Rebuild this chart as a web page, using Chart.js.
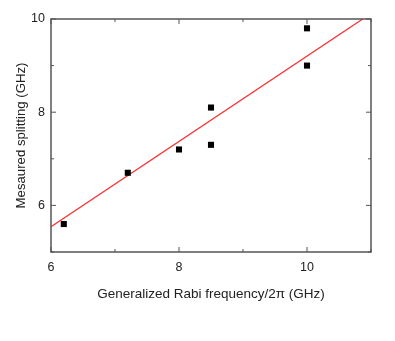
<!DOCTYPE html>
<html>
<head>
<meta charset="utf-8">
<script src="https://cdn.jsdelivr.net/npm/chart.js@4"></script>
<style>
  html, body { margin: 0; padding: 0; background: #fff; }
  canvas { display: block; }
</style>
</head>
<body>
<canvas id="myChart" width="395" height="341"></canvas>
<script>
// measured points
const rabiFreq = [6.2, 7.2, 8.0, 8.5, 8.5, 10.0, 10.0];
const splitting = [5.6, 6.7, 7.2, 8.1, 7.3, 9.8, 9.0];

// linear fit, end points only
const fitX = [6.0, 10.87];
const fitY = [5.54, 10.0];

const xTickLabels = [6, 8, 10];
const yTickLabels = [6, 8, 10];

const points = rabiFreq.map((x, i) => ({ x: x, y: splitting[i] }));
const fitLine = fitX.map((x, i) => ({ x: x, y: fitY[i] }));

// frame + inward ticks on all four sides
const frameTicks = {
  id: "frameTicks",
  afterDraw(chart) {
    const { ctx, chartArea: a, scales } = chart;
    const xs = scales.x, ys = scales.y;
    ctx.save();
    ctx.strokeStyle = "#555";
    ctx.lineWidth = 1.5;
    ctx.strokeRect(a.left, a.top, a.right - a.left, a.bottom - a.top);
    ctx.lineWidth = 1;
    for (let v = xs.min; v <= xs.max; v += 1) {
      const px = xs.getPixelForValue(v);
      const len = xTickLabels.includes(v) ? 5 : 3;
      ctx.beginPath();
      ctx.moveTo(px, a.bottom); ctx.lineTo(px, a.bottom - len);
      ctx.moveTo(px, a.top); ctx.lineTo(px, a.top + len);
      ctx.stroke();
    }
    for (let v = ys.min; v <= ys.max; v += 1) {
      const py = ys.getPixelForValue(v);
      const len = yTickLabels.includes(v) ? 5 : 3;
      ctx.beginPath();
      ctx.moveTo(a.left, py); ctx.lineTo(a.left + len, py);
      ctx.moveTo(a.right, py); ctx.lineTo(a.right - len, py);
      ctx.stroke();
    }
    ctx.restore();
  },
};

Chart.defaults.font.family = "'Liberation Sans', Arial, sans-serif";
Chart.defaults.font.size = 12;
Chart.defaults.color = "#222";

const ctx = document.getElementById("myChart");

new Chart(ctx, {
  type: "scatter",
  data: {
    datasets: [
      {
        label: "fit",
        data: fitLine,
        showLine: true,
        borderColor: "#ff2a2a",
        borderWidth: 1.2,
        pointRadius: 0,
        order: 2,
      },
      {
        label: "data",
        data: points,
        pointStyle: "rect",
        pointRadius: 4.3,
        backgroundColor: "#000",
        borderColor: "#000",
        borderWidth: 0,
        order: 1,
      },
    ],
  },
  options: {
    responsive: false,
    animation: false,
    devicePixelRatio: 1,
    layout: { padding: { left: 0, top: 19, right: 24, bottom: 39 } },
    plugins: { legend: { display: false }, tooltip: { enabled: false } },
    scales: {
      x: {
        type: "linear",
        min: 6,
        max: 11,
        grid: { display: false, drawTicks: false },
        border: { display: false },
        ticks: {
          stepSize: 1,
          padding: 8,
          maxRotation: 0,
          font: { size: 12.5 },
          callback: (v) => (xTickLabels.includes(v) ? String(v) : ""),
        },
        title: {
          display: true,
          text: "Generalized Rabi frequency/2\u03c0 (GHz)",
          font: { size: 13.5 },
          padding: { top: 2, bottom: 0 },
        },
        afterFit(scale) { scale.height = 50; },
      },
      y: {
        type: "linear",
        min: 5,
        max: 10,
        grid: { display: false, drawTicks: false },
        border: { display: false },
        ticks: {
          stepSize: 1,
          padding: 6,
          font: { size: 12.5 },
          callback: (v) => (yTickLabels.includes(v) ? String(v) : ""),
        },
        title: {
          display: true,
          text: "Mesaured splitting (GHz)",
          font: { size: 13.2 },
          padding: { top: 13, bottom: 0 },
        },
        afterFit(scale) { scale.width = 51; },
      },
    },
  },
  plugins: [frameTicks],
});
</script>
</body>
</html>
